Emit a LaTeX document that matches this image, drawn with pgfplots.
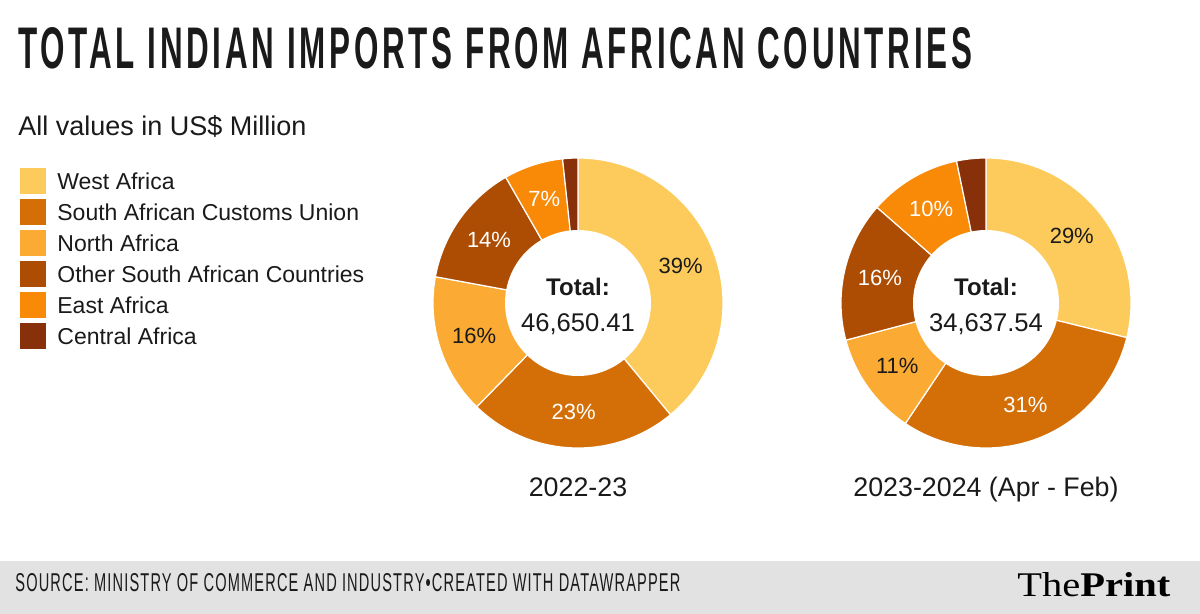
\documentclass[border=0pt]{standalone}
\usepackage{pgfplots}
\pgfplotsset{compat=1.18}
\usepackage{pgfplotstable}
\usepackage{graphicx}
\usepackage{fontspec}
\setmainfont{Liberation Sans}
\newfontfamily\titlefont[LetterSpace=12]{Liberation Sans}
\newfontfamily\srcfont[LetterSpace=8]{Liberation Sans}
\newfontfamily\logofont{Liberation Serif}

\definecolor{cW}{HTML}{FDCB5B}
\definecolor{cS}{HTML}{D46F08}
\definecolor{cN}{HTML}{FBAB34}
\definecolor{cO}{HTML}{AD4D04}
\definecolor{cE}{HTML}{F98A08}
\definecolor{cC}{HTML}{87300A}
\definecolor{cGray}{HTML}{E2E2E2}
\definecolor{cText}{HTML}{1A1A1A}

% values in US$ million
\pgfplotstableread{
region value
West 18194
SACU 10870
North 7277
Other 6438
East 3079
Central 793
}\dataL
\pgfplotstableread{
region value
West 9990
SACU 10580
North 3980
Other 5400
East 3560
Central 1128
}\dataR

\newcommand\computeangles[2]{%
  \gdef\tmptot{0}%
  \foreach \r in {0,...,5}{%
    \pgfplotstablegetelem{\r}{value}\of#1%
    \xdef\tmptot{\fpeval{\tmptot+\pgfplotsretval}}%
  }%
  \gdef\tmpacc{0}%
  \foreach \r/\n in {0/A,1/B,2/C,3/D,4/E,5/F}{%
    \pgfplotstablegetelem{\r}{value}\of#1%
    \expandafter\xdef\csname #2s\n\endcsname{\fpeval{round(360*\tmpacc/\tmptot,4)}}%
    \expandafter\xdef\csname #2e\n\endcsname{\fpeval{round(360*(\tmpacc+\pgfplotsretval)/\tmptot,4)}}%
    \expandafter\xdef\csname #2m\n\endcsname{\fpeval{round(180*(2*\tmpacc+\pgfplotsretval)/\tmptot,4)}}%
    \expandafter\xdef\csname #2p\n\endcsname{\fpeval{round(100*\pgfplotsretval/\tmptot)}}%
    \xdef\tmpacc{\fpeval{\tmpacc+\pgfplotsretval}}%
  }%
}
\computeangles{\dataL}{L}
\computeangles{\dataR}{R}

\newcommand\slice[5]{%
  \addplot[fill=#1, draw=white, line width=0.6pt, domain=#2:#3, samples=90, variable=\t]
    ({#4+145*sin(\t)}, {#5-145*cos(\t)}) -- (axis cs:#4,#5) -- cycle;
}
\newcommand\plabel[5]{%
  \node[text=#3, font=\fontsize{11}{13}\selectfont, anchor=center, inner sep=0]
    at (axis cs:{#4+109*sin(#1)},{#5-109*cos(#1)}) {#2\%};
}

\begin{document}
\begin{tikzpicture}
\begin{axis}[
  width=600pt, height=307pt, scale only axis,
  xmin=0, xmax=1200, ymin=0, ymax=614, y dir=reverse,
  hide axis, clip=false,
]
\fill[white] (axis cs:0,0) rectangle (axis cs:1200,614);
\fill[cGray] (axis cs:0,561) rectangle (axis cs:1200,614);

% left donut
\slice{cW}{\LsA}{\LeA}{578}{303}
\slice{cS}{\LsB}{\LeB}{578}{303}
\slice{cN}{\LsC}{\LeC}{578}{303}
\slice{cO}{\LsD}{\LeD}{578}{303}
\slice{cE}{\LsE}{\LeE}{578}{303}
\slice{cC}{\LsF}{\LeF}{578}{303}
\addplot[fill=white, draw=none, domain=0:360, samples=120, variable=\t]
  ({578+73*sin(\t)}, {303-73*cos(\t)}) -- cycle;

% right donut
\slice{cW}{\RsA}{\ReA}{986}{303}
\slice{cS}{\RsB}{\ReB}{986}{303}
\slice{cN}{\RsC}{\ReC}{986}{303}
\slice{cO}{\RsD}{\ReD}{986}{303}
\slice{cE}{\RsE}{\ReE}{986}{303}
\slice{cC}{\RsF}{\ReF}{986}{303}
\addplot[fill=white, draw=none, domain=0:360, samples=120, variable=\t]
  ({986+73*sin(\t)}, {303-73*cos(\t)}) -- cycle;

% percentage labels
\plabel{\LmA}{\LpA}{cText}{578}{303}
\plabel{\LmB}{\LpB}{white}{578}{303}
\plabel{\LmC}{\LpC}{cText}{578}{303}
\plabel{\LmD}{\LpD}{white}{578}{303}
\plabel{\LmE}{\LpE}{white}{578}{303}
\plabel{\RmA}{\RpA}{cText}{986}{303}
\plabel{\RmB}{\RpB}{white}{986}{303}
\plabel{\RmC}{\RpC}{cText}{986}{303}
\plabel{\RmD}{\RpD}{white}{986}{303}
\plabel{\RmE}{\RpE}{white}{986}{303}

% totals
\node[anchor=base, inner sep=0, text=cText, font=\bfseries\fontsize{12}{14}\selectfont] at (axis cs:578,295.7) {Total:};
\node[anchor=base, inner sep=0, text=cText, font=\fontsize{12.8}{15}\selectfont] at (axis cs:578,331.7) {46,650.41};
\node[anchor=base, inner sep=0, text=cText, font=\bfseries\fontsize{12}{14}\selectfont] at (axis cs:986,295.7) {Total:};
\node[anchor=base, inner sep=0, text=cText, font=\fontsize{12.8}{15}\selectfont] at (axis cs:986,331.7) {34,637.54};

% year labels
\node[anchor=base, inner sep=0, text=cText, font=\fontsize{13.4}{16}\selectfont] at (axis cs:578,497) {2022-23};
\node[anchor=base, inner sep=0, text=cText, font=\fontsize{13.4}{16}\selectfont] at (axis cs:986,497) {2023-2024 (Apr - Feb)};

% title and subtitle
\node[anchor=north west, inner sep=0, text=cText] at (axis cs:18,27)
  {\resizebox{477pt}{20.5pt}{\titlefont\bfseries TOTAL INDIAN IMPORTS FROM AFRICAN COUNTRIES}};
\node[anchor=base west, inner sep=0, text=cText, font=\fontsize{13.5}{16}\selectfont] at (axis cs:18,135.5) {All values in US\$ Million};

% legend
\fill[cW] (axis cs:20,168) rectangle (axis cs:46,194);
\fill[cS] (axis cs:20,199) rectangle (axis cs:46,225);
\fill[cN] (axis cs:20,230) rectangle (axis cs:46,256);
\fill[cO] (axis cs:20,261) rectangle (axis cs:46,287);
\fill[cE] (axis cs:20,292) rectangle (axis cs:46,318);
\fill[cC] (axis cs:20,323) rectangle (axis cs:46,349);
\begin{scope}[every node/.style={anchor=base west, inner sep=0, text=cText, font=\fontsize{11.5}{14}\selectfont}]
\node at (axis cs:57,189.3) {West Africa};
\node at (axis cs:57,220.3) {South African Customs Union};
\node at (axis cs:57,251.3) {North Africa};
\node at (axis cs:57,282.3) {Other South African Countries};
\node at (axis cs:57,313.3) {East Africa};
\node at (axis cs:57,344.3) {Central Africa};
\end{scope}

% footer
\node[anchor=west, inner sep=0, text=cText] at (axis cs:15,583)
  {\resizebox{332.5pt}{9pt}{\srcfont SOURCE: MINISTRY OF COMMERCE AND INDUSTRY•CREATED WITH DATAWRAPPER}};
\node[anchor=base west, inner sep=0, text=black] at (axis cs:1017,596.5)
  {\resizebox{76.5pt}{12pt}{\logofont The\textbf{Print}}};
\end{axis}
\end{tikzpicture}
\end{document}
